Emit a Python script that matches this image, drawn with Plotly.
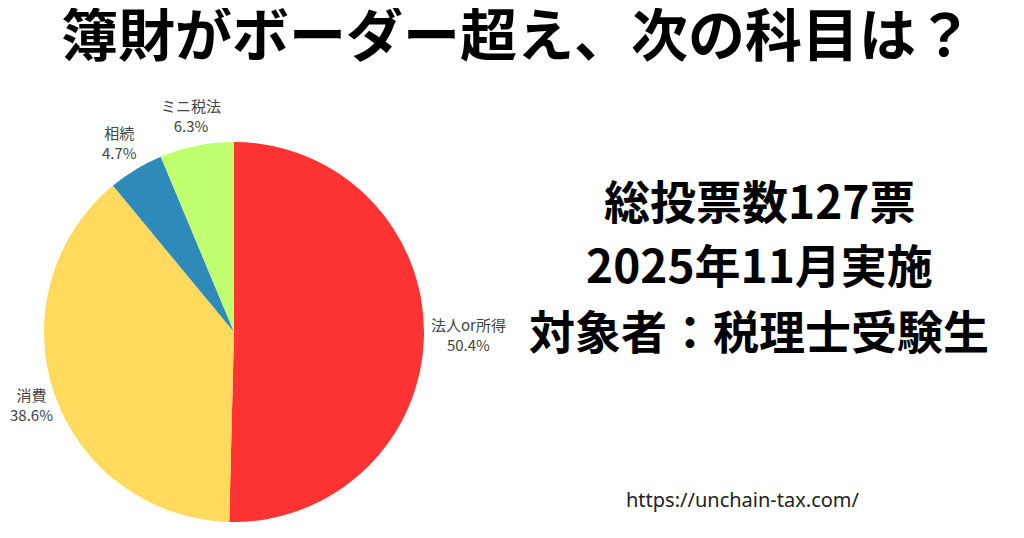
import math
import plotly.graph_objects as go

labels = ["法人or所得", "消費", "相続", "ミニ税法"]
values = [50.4, 38.6, 4.7, 6.3]
colors = ["#FF3333", "#FFDA5C", "#2E8AB8", "#C0FF70"]

title_text = "簿財がボーダー超え、次の科目は？"
info_lines = ["総投票数127票", "2025年11月実施", "対象者：税理士受験生"]
url_text = "https://unchain-tax.com/"

FONT = "Noto Sans CJK JP"
W, H = 1024, 538
LABEL_SIZE = 15

# pie centre / radius in figure pixels
cx, cy, r = 226, 324, 190
fig = go.Figure(go.Pie(
    labels=labels,
    values=values,
    marker=dict(colors=colors, line=dict(width=0)),
    sort=False,
    direction="clockwise",
    rotation=0,
    textinfo="none",
    showlegend=False,
    hoverinfo="skip",
    domain=dict(x=[(cx - r) / W, (cx + r) / W],
                y=[1 - (cy + r) / H, 1 - (cy - r) / H]),
))


def text_width(s, size):
    w = 0.0
    for ch in s:
        w += size * (1.0 if ord(ch) > 0x2E80 else 0.58)
    return w


# outside labels placed at each slice's mid-angle (derived from the values)
total = sum(values)
cum = 0.0
half_h = LABEL_SIZE * 1.3
for lab, v in zip(labels, values):
    mid = (cum + v / 2) / total
    cum += v
    th = 2 * math.pi * mid
    sx, cyv = math.sin(th), math.cos(th)  # right / up components
    pct = f"{v / total * 100:.1f}%"
    w = max(text_width(lab, LABEL_SIZE), text_width(pct, LABEL_SIZE))
    ext = abs(sx) * w / 2 + abs(cyv) * half_h
    d = r + 6 + ext
    px = cx + d * sx
    py = cy - d * cyv
    px = min(max(px, w / 2 + 2), W - w / 2 - 2)
    fig.add_annotation(text=f"{lab}<br>{pct}",
                       x=px / W, y=1 - py / H, xref="paper", yref="paper",
                       showarrow=False, xanchor="center", yanchor="middle",
                       align="center",
                       font=dict(family=FONT, size=LABEL_SIZE, color="#444444"))

fig.add_annotation(text=f"<b>{title_text}</b>", x=509/W, y=1 - 23/H,
                   xref="paper", yref="paper", showarrow=False,
                   font=dict(family=FONT, size=57, color="#000000"),
                   xanchor="center", yanchor="middle")

line_y = [191, 255, 321]
for line, ly in zip(info_lines, line_y):
    fig.add_annotation(text=f"<b>{line}</b>", x=751/W, y=1 - ly/H,
                       xref="paper", yref="paper", showarrow=False,
                       font=dict(family=FONT, size=46, color="#000000"),
                       xanchor="center", yanchor="middle")

fig.add_annotation(text=url_text, x=735/W, y=1 - 491/H,
                   xref="paper", yref="paper", showarrow=False,
                   font=dict(family="Noto Sans", size=20, color="#222222"),
                   xanchor="center", yanchor="middle")

fig.update_layout(
    width=W, height=H,
    margin=dict(l=0, r=0, t=0, b=0),
    paper_bgcolor="white", plot_bgcolor="white",
)

fig.write_html("out.html")
